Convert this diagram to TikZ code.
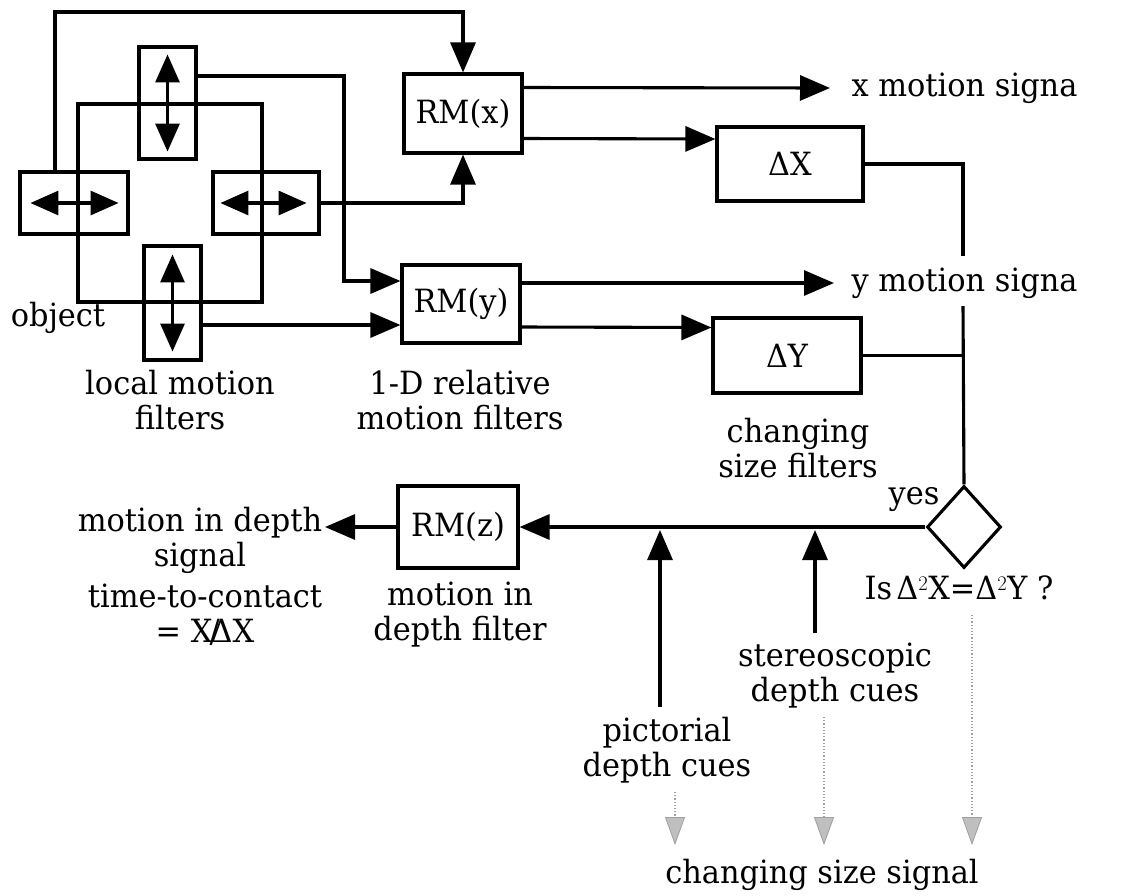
\documentclass[tikz,border=0pt]{standalone}
\usepackage{fontspec}
\setmainfont{DejaVu Serif}[FakeStretch=0.95]
\usetikzlibrary{arrows.meta,shapes.geometric,calc}
\begin{document}
\begin{tikzpicture}[x=1pt,y=-1pt,line width=3.1pt,
  every node/.style={font=\fontsize{32}{35}\selectfont},
  box/.style={draw,inner sep=0pt},
  lbl/.style={align=center,inner sep=0pt},
  arr/.style={-{Triangle[length=30pt,width=25pt]}},
  dbl/.style={{Triangle[length=28pt,width=24pt]}-{Triangle[length=28pt,width=24pt]}},
  gdot/.style={draw=gray!75,dotted,line width=1.2pt,-{Triangle[length=28pt,width=20pt,fill=gray!50,color=gray!75,line width=0.8pt]}}]
\useasboundingbox (0,0) rectangle (1121,895);
% local motion filters and object square
\node[box,minimum width=184pt,minimum height=198pt] (obj) at (170,203) {};
\node[box,minimum width=108pt,minimum height=62pt] (L) at (74,203) {};
\node[box,minimum width=57pt,minimum height=112pt] (T) at (167.5,103) {};
\node[box,minimum width=106pt,minimum height=62pt] (R) at (266,203) {};
\node[box,minimum width=57pt,minimum height=114pt] (B) at (172.5,303) {};
\draw[dbl] ($(L.west)+(12,0)$) -- ($(L.east)+(-11,0)$);
\draw[dbl] ($(R.west)+(9,0)$) -- ($(R.east)+(-14,0)$);
\draw[dbl] ($(T.north)+(0,9)$) -- ($(T.south)+(0,-9)$);
\draw[dbl] ($(B.north)+(0,10)$) -- ($(B.south)+(0,-10)$);
% relative motion filters
\node[box,minimum width=118pt,minimum height=79pt] (RMx) at (463,113.5) {RM(x)};
\node[box,minimum width=118pt,minimum height=78pt] (RMy) at (461,304) {RM(y)};
\node[box,minimum width=146pt,minimum height=74pt] (DX) at (790,164) {ΔX};
\node[box,minimum width=148pt,minimum height=75pt] (DY) at (787,355.5) {ΔY};
\node[box,minimum width=120pt,minimum height=82pt] (RMz) at (458,527) {RM(z)};
\node[draw,diamond,minimum width=74pt,minimum height=82pt,inner sep=0pt] (D) at (964,527) {};
% signal labels
\node[lbl,anchor=west] (xsig) at (850,88) {x motion signa};
\node[lbl,anchor=west] (ysig) at (850,283) {y motion signa};
\node[lbl] (objl) at (58,318) {object};
\node[lbl] (lmf) at (180,400) {local motion\\filters};
\node[lbl] (rmf) at (460,400) {1-D relative\\motion filters};
\node[lbl] (csf) at (798,448) {changing\\size filters};
\node[lbl] (yes) at (914,500) {yes};
\node[lbl] (mid) at (200,540) {motion in depth\\signal};
\node[lbl] (ttc) at (205,615) {time-to-contact\\= X\kern-3pt/\kern-9ptΔX};
\node[lbl] (mdf) at (460,615) {motion in\\depth filter};
\node[lbl] (isq) at (959,588) {Is$\,$Δ$^2$X=Δ$^2$Y ?};
\node[lbl] (stc) at (835,676) {stereoscopic\\depth cues};
\node[lbl] (pdc) at (667,750) {pictorial\\depth cues};
\node[lbl] (css) at (822,875) {changing size signal};
% connectors
\coordinate (c1) at (55,12);
\draw[arr] (L.north -| c1) -- (c1) -| (RMx.north);
\draw[arr] ($(T.east)+(0,-27)$) -| (344,281) -- ($(RMy.west)+(0,-23)$);
\draw[arr] (R.east) -| (RMx.south);
\draw[arr] ($(B.east)+(0,22)$) -- ($(RMy.west)+(0,21)$);
\draw[arr] ($(RMx.east)+(0,-26)$) -- ($(xsig.west)+(-20,0)$);
\draw[arr] ($(RMx.east)+(0,25)$) -- ($(DX.west)+(0,-25)$);
\draw[arr] ($(RMy.east)+(0,-21)$) -- ($(ysig.west)+(-16,0)$);
\draw[arr] ($(RMy.east)+(0,23)$) -- ($(DY.west)+(0,-28)$);
\coordinate (g1) at (963,256);
\coordinate (g2) at (963,306);
\draw (DX.east) -| (g1);
\draw (g2) -- (D.north);
\draw (DY.east) -- (DY.east -| D.north);
\draw[arr] (D.west) -- (RMz.east);
\coordinate (mide) at (325,527);
\draw[arr] (RMz.west) -- (mide);
\coordinate (pa) at (660,707);
\coordinate (sa) at (815,633);
\draw[arr,shorten >=3pt] (pa) -- (pa |- D.west);
\draw[arr,shorten >=3pt] (sa) -- (sa |- D.west);
\coordinate (d1) at (675,792);
\coordinate (d2) at (824,717);
\coordinate (d3) at (972,615);
\draw[gdot] (d1) -- (d1 |- 0,845);
\draw[gdot] (d2) -- (d2 |- 0,845);
\draw[gdot] (d3) -- (d3 |- 0,845);
\end{tikzpicture}
\end{document}
